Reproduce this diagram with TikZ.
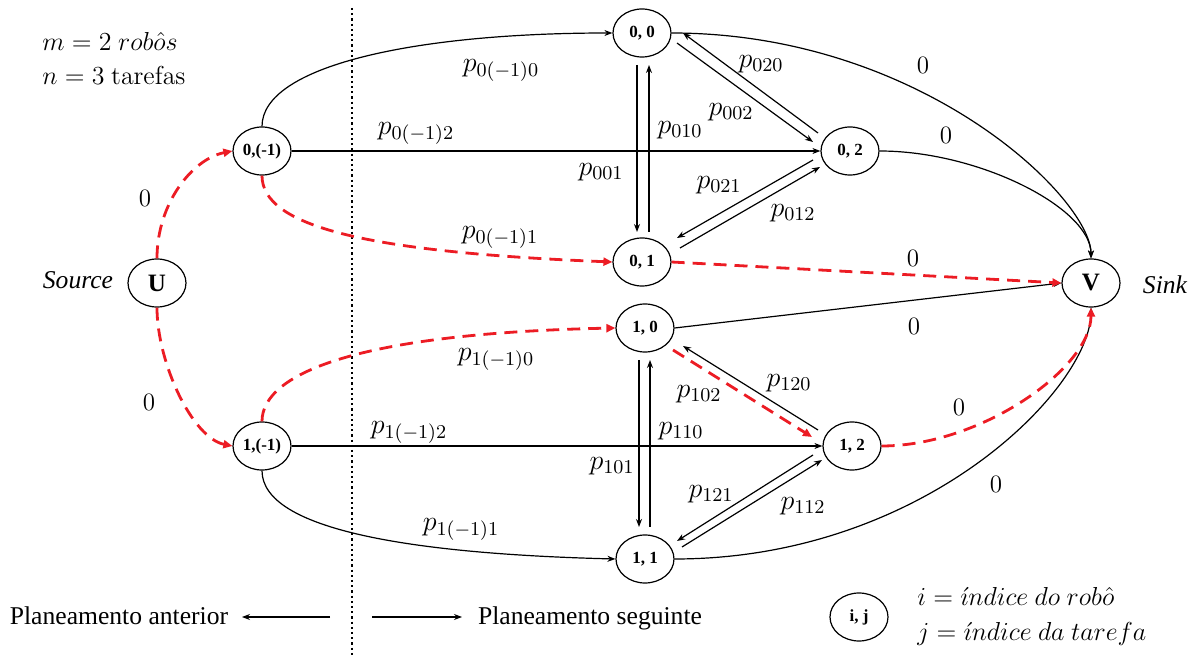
\RequirePackage{fix-cm}
\documentclass[tikz,border=0pt]{standalone}
\usepackage[no-math]{fontspec}
\setmainfont{Liberation Serif}
\newfontfamily\tnr{Liberation Serif}
\usetikzlibrary{arrows.meta,shapes.geometric,calc}
\definecolor{rd}{RGB}{236,28,36}
\begin{document}
\begin{tikzpicture}[x=0.5pt,y=-0.5pt,
  state/.style={draw,ellipse,line width=0.6pt,minimum width=29pt,minimum height=24pt,inner sep=0pt,font=\tnr\fontsize{8.5}{9}\selectfont\bfseries},
  bigstate/.style={state,font=\tnr\fontsize{12.5}{14}\selectfont\bfseries},
  edge/.style={line width=0.6pt,-{Stealth[length=4pt,width=3pt]}},
  redge/.style={rd,line width=1.4pt,dash pattern=on 6.5pt off 4pt,-{Triangle[length=4.5pt,width=4pt]}},
  lbl/.style={inner sep=0pt,font=\fontsize{13}{15}\selectfont},
  plbl/.style={inner sep=0pt,font=\fontsize{14}{16}\selectfont},
  zlbl/.style={inner sep=0pt,font=\fontsize{12.5}{15}\selectfont},
  txt/.style={inner sep=0pt,font=\tnr\fontsize{12.8}{15}\selectfont},
  itxt/.style={inner sep=0pt,font=\tnr\fontsize{12.8}{15}\selectfont\itshape},
  dotline/.style={line width=1.1pt,dash pattern=on 1.1pt off 1.5pt}]
\useasboundingbox (0,0) rectangle (1195,657);

% nodes
\node[bigstate] (U) at (157,283) {U};
\node[bigstate] (V) at (1091,283) {V};
\node[state] (A) at (262,151) {0,(-1)};
\node[state] (B) at (262,446) {1,(-1)};
\node[state] (n00) at (642,33) {0, 0};
\node[state] (n01) at (642,262) {0, 1};
\node[state] (n02) at (850,151) {0, 2};
\node[state] (n10) at (645,328) {1, 0};
\node[state] (n11) at (645,559) {1, 1};
\node[state] (n12) at (852,446) {1, 2};
\node[state] (nij) at (859,617) {i, j};

% dotted separator
\coordinate (dtop) at (352,8);
\coordinate (dbot) at (352,657);
\draw[dotline] (dtop) -- (dbot);

% texts
\node[lbl,anchor=west] (tm) at (42,41) {$m = 2\ rob\hat{o}s$};
\node[lbl,anchor=west] (tn) at (42,75) {$n = 3\ \mathrm{tarefas}$};
\node[itxt] (src) at (78,280) {Source};
\node[itxt] (snk) at (1165,285) {Sink};
\node[txt] (pa) at (119,616) {Planeamento anterior};
\node[txt] (ps) at (590,618) {Planeamento seguinte};
\node[lbl,anchor=west] (ti) at (917,596) {$i = \acute{\imath}ndice\ do\ rob\hat{o}$};
\node[lbl,anchor=west] (tj) at (917,634) {$j = \acute{\imath}ndice\ da\ tarefa$};
\coordinate (pa1) at (330,617);
\coordinate (pa2) at (242,617);
\coordinate (ps1) at (372,617);
\coordinate (ps2) at (462,617);
\draw[edge] (pa1) -- (pa2);
\draw[edge] (ps1) -- (ps2);

% black edges
\draw[edge] (A.north) .. controls +(0,-60) and +(-200,0) .. (n00.west);
\draw[edge] (A.east) -- (n02.west);
\draw[edge] (B.east) -- (n12.west);
\draw[edge] (B.south) .. controls +(0,60) and +(-200,-5) .. (n11.west);
\draw[edge] (n00.east) .. controls +(250,0) and +(0,-60) .. (V.north);
\draw[edge] (n02.east) .. controls +(100,0) and +(0,-50) .. (V.north);
\draw[edge] (n10.east) -- (V.west);
\draw[edge] (n11.east) .. controls +(250,0) and +(0,80) .. (V.south);

% pairs, upper
\draw[edge] ($(n00)+(-5,32)$) -- ($(n01)+(-5,-30)$);
\draw[edge] ($(n01)+(7,-30)$) -- ($(n00)+(7,32)$);
\draw[edge] ($(n00)+(35,10)$) -- ($(n02)+(-37,-9)$);
\draw[edge] ($(n02)+(-32,-18)$) -- ($(n00)+(41,0)$);
\draw[edge] ($(n02)+(-37,9)$) -- ($(n01)+(35,-24)$);
\draw[edge] ($(n01)+(38,-14)$) -- ($(n02)+(-30,16)$);
% pairs, lower
\draw[edge] ($(n10)+(-6,32)$) -- ($(n11)+(-6,-32)$);
\draw[edge] ($(n11)+(5,-32)$) -- ($(n10)+(5,32)$);
\draw[edge] ($(n12)+(-34,-16)$) -- ($(n10)+(38,18)$);
\draw[edge] ($(n12)+(-39,9)$) -- ($(n11)+(32,-18)$);
\draw[edge] ($(n11)+(37,-12)$) -- ($(n12)+(-30,14)$);

% red edges
\draw[redge] (U.north) .. controls +(0,-55) and +(-40,8) .. (A.west);
\draw[redge] (U.south) .. controls +(0,55) and +(-40,-8) .. (B.west);
\draw[redge] (A.south) .. controls +(0,50) and +(-250,-10) .. (n01.west);
\draw[redge] (B.north) .. controls +(0,-50) and +(-250,5) .. (n10.west);
\draw[redge] (n01.east) -- (V.west);
\draw[redge] (n12.east) .. controls +(100,0) and +(0,60) .. (V.south);
\draw[redge] ($(n10)+(28,22)$) -- ($(n12)+(-40,-9)$);

% zero labels
\node[zlbl] (z1) at (145,198) {$0$};
\node[zlbl] (z2) at (149,402) {$0$};
\node[zlbl] (z3) at (923,65) {$0$};
\node[zlbl] (z4) at (946,135) {$0$};
\node[zlbl] (z5) at (913,258) {$0$};
\node[zlbl] (z6) at (914,326) {$0$};
\node[zlbl] (z7) at (959,407) {$0$};
\node[zlbl] (z8) at (996,484) {$0$};

% p labels
\node[plbl] (p1) at (501,70) {$p_{0(-1)0}$};
\node[plbl] (p2) at (416,133) {$p_{0(-1)2}$};
\node[plbl] (p3) at (500,237) {$p_{0(-1)1}$};
\node[plbl] (p4) at (601,172) {$p_{001}$};
\node[plbl] (p5) at (680,130) {$p_{010}$};
\node[plbl] (p6) at (731,112) {$p_{002}$};
\node[plbl] (p7) at (761,64) {$p_{020}$};
\node[plbl] (p8) at (719,185) {$p_{021}$};
\node[plbl] (p9) at (793,213) {$p_{012}$};
\node[plbl] (q1) at (496,359) {$p_{1(-1)0}$};
\node[plbl] (q2) at (409,432) {$p_{1(-1)2}$};
\node[plbl] (q3) at (461,529) {$p_{1(-1)1}$};
\node[plbl] (q4) at (612,466) {$p_{101}$};
\node[plbl] (q5) at (681,431) {$p_{110}$};
\node[plbl] (q6) at (699,394) {$p_{102}$};
\node[plbl] (q7) at (789,383) {$p_{120}$};
\node[plbl] (q8) at (711,494) {$p_{121}$};
\node[plbl] (q9) at (803,506) {$p_{112}$};
\end{tikzpicture}
\end{document}
